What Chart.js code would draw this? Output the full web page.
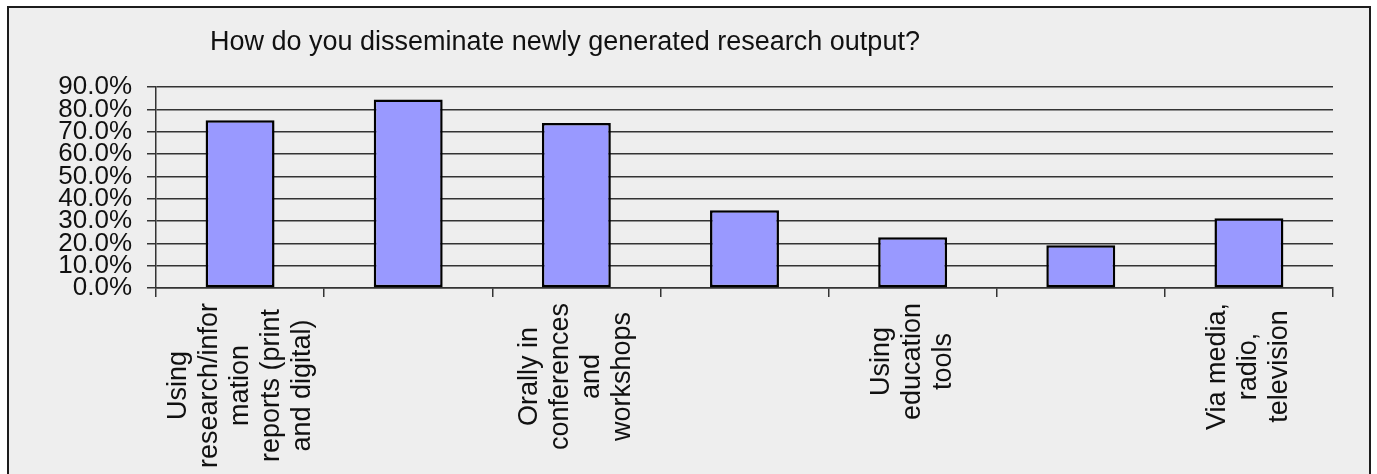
<!DOCTYPE html>
<html>
<head>
<meta charset="utf-8">
<script src="https://cdn.jsdelivr.net/npm/chart.js@4"></script>
<style>
    html, body { margin: 0; padding: 0; background: #fff; }
    #frame {
        position: absolute;
        left: 7px;
        top: 6px;
        width: 1360px;
        height: 480px;
        border: 2px solid #1c1c1c;
        background: #eeeeee;
    }
    #wrap { position: absolute; left: 0; top: 0; width: 1377px; height: 474px; }
</style>
</head>
<body>
<div id="frame"></div>
<div id="wrap"><canvas id="dissemination"></canvas></div>
<script>
const chartTitle = "How do you disseminate newly generated research output?";

// one entry per bar; only every other category carries a printed label
const categoryLabels = [
    ["Using", "research/infor", "mation", "reports (print", "and digital)"],
    [],
    ["Orally in", "conferences", "and", "workshops"],
    [],
    ["Using", "education", "tools"],
    [],
    ["Via media,", "radio,", "television"]
];
const sharePercent = [75.1, 84.4, 73.9, 34.8, 22.7, 19.1, 31.2];
const yTicks = [0, 10, 20, 30, 40, 50, 60, 70, 80, 90];

const FONT = "'Liberation Sans', Arial, sans-serif";

// title sits left of centre, above the plot
const titlePlugin = {
    id: "leftTitle",
    afterDraw(chart) {
        const ctx = chart.ctx;
        ctx.save();
        ctx.font = "27px " + FONT;
        ctx.fillStyle = "#111";
        ctx.textAlign = "left";
        ctx.textBaseline = "alphabetic";
        ctx.fillText(chartTitle, 210, 50);
        ctx.restore();
    }
};

// vertical category labels with centred lines
const categoryLabelPlugin = {
    id: "verticalLabels",
    afterDraw(chart) {
        const ctx = chart.ctx;
        const xScale = chart.scales.x;
        const lineHeight = 31;
        ctx.save();
        ctx.font = "27px " + FONT;
        ctx.fillStyle = "#111";
        ctx.textAlign = "center";
        ctx.textBaseline = "middle";
        categoryLabels.forEach((lines, i) => {
            if (!lines.length) return;
            const widest = Math.max(...lines.map(l => ctx.measureText(l).width));
            const cx = xScale.getPixelForTick(i);
            const cy = chart.chartArea.bottom + 15 + widest / 2;
            lines.forEach((line, j) => {
                ctx.save();
                ctx.translate(cx + (j - (lines.length - 1) / 2) * lineHeight, cy);
                ctx.rotate(-Math.PI / 2);
                ctx.fillText(line, 0, 0);
                ctx.restore();
            });
        });
        ctx.restore();
    }
};

new Chart(document.getElementById("dissemination"), {
    type: "bar",
    data: {
        labels: categoryLabels.map((l, i) => l.join(" ") || String(i)),
        datasets: [{
            data: sharePercent,
            backgroundColor: "#9999ff",
            borderColor: "#000",
            borderWidth: 2.5,
            borderSkipped: false,
            categoryPercentage: 1,
            barPercentage: 0.41
        }]
    },
    options: {
        responsive: true,
        maintainAspectRatio: false,
        animation: false,
        layout: { padding: { left: 0, top: 87, right: 44, bottom: 0 } },
        plugins: {
            legend: { display: false },
            title: { display: false },
            tooltip: { enabled: false }
        },
        scales: {
            x: {
                grid: {
                    offset: true,
                    drawOnChartArea: false,
                    drawTicks: true,
                    tickLength: 9,
                    color: "#333",
                    lineWidth: 1.5
                },
                border: { display: true, color: "#333", width: 1.5 },
                ticks: { display: false },
                afterFit(scale) { scale.height = 474 - 288; }
            },
            y: {
                min: 0,
                max: 90,
                afterBuildTicks(scale) {
                    scale.ticks = yTicks.map(v => ({ value: v }));
                },
                grid: {
                    color: "#333",
                    lineWidth: 1.5,
                    tickLength: 9
                },
                border: { display: true, color: "#333", width: 1.5 },
                ticks: {
                    autoSkip: false,
                    padding: 15,
                    color: "#111",
                    font: { family: FONT, size: 26 },
                    callback: v => v.toFixed(1) + "%"
                },
                afterFit(scale) { scale.width = 156; }
            }
        }
    },
    plugins: [titlePlugin, categoryLabelPlugin]
});
</script>
</body>
</html>
